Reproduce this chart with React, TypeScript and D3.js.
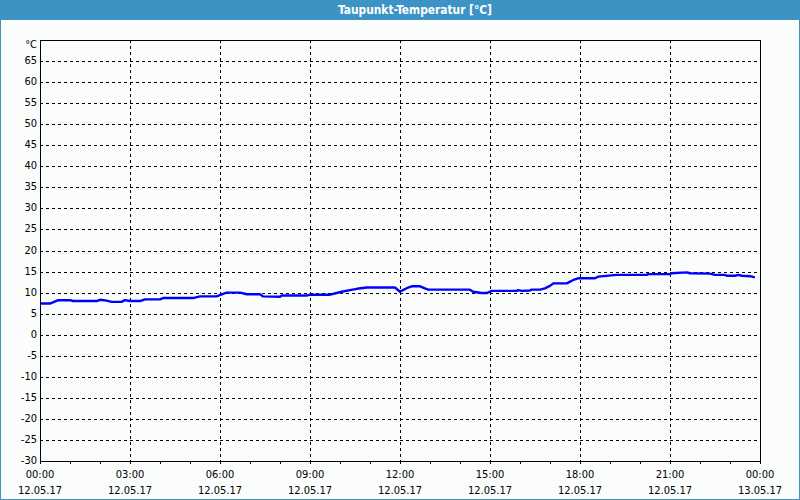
import * as d3 from "d3";

// hours since 12.05.17 00:00
const hours = [
  0, 0.33, 0.61, 1.0, 1.1, 1.89, 2.0, 2.22, 2.39, 2.72, 2.83, 3.0, 3.33, 3.5, 4.0, 4.1, 5.1, 5.33, 5.89,
  6.06, 6.22, 6.67, 6.89, 7.33, 7.44, 8.0, 8.05, 8.89, 9.0, 9.67, 9.89, 10.06, 10.33, 10.56, 10.89,
  11.83, 12.0, 12.1, 12.27, 12.39, 12.67, 12.83, 12.94, 14.33, 14.44, 14.72, 14.89, 15.06, 15.89,
  15.94, 16.06, 16.33, 16.39, 16.67, 16.83, 17.0, 17.11, 17.56, 17.67, 17.78, 17.94, 18.5, 18.61,
  19.22, 20.22, 20.28, 21.0, 21.06, 21.56, 21.67, 22.33, 22.5, 22.83, 22.89, 23.17, 23.28, 23.39,
  23.67, 23.83,
];
const dewPoint = [
  7.4, 7.4, 8.2, 8.2, 8.0, 8.0, 8.3, 8.1, 7.8, 7.8, 8.2, 8.0, 8.0, 8.4, 8.4, 8.7, 8.7, 9.1, 9.1,
  9.6, 10.0, 10.0, 9.6, 9.6, 9.1, 9.0, 9.3, 9.3, 9.5, 9.5, 9.9, 10.2, 10.6, 10.9, 11.2,
  11.2, 10.2, 10.6, 11.2, 11.5, 11.5, 11.0, 10.7, 10.7, 10.2, 9.9, 9.9, 10.4, 10.4,
  10.6, 10.4, 10.5, 10.7, 10.7, 11.0, 11.6, 12.2, 12.2, 12.6, 13.0, 13.4, 13.4, 13.8,
  14.2, 14.2, 14.4, 14.4, 14.6, 14.8, 14.6, 14.5, 14.2, 14.2, 14.0, 14.0, 14.2, 14.0,
  13.9, 13.6,
];

const yTicks = [65, 60, 55, 50, 45, 40, 35, 30, 25, 20, 15, 10, 5, 0, -5, -10, -15, -20, -25, -30];
const xMajor = [0, 3, 6, 9, 12, 15, 18, 21, 24];
const xTimeLabels = ["00:00", "03:00", "06:00", "09:00", "12:00", "15:00", "18:00", "21:00", "00:00"];
const xDateLabels = ["12.05.17", "12.05.17", "12.05.17", "12.05.17", "12.05.17", "12.05.17", "12.05.17", "12.05.17", "13.05.17"];

const W = 800;
const H = 500;
const PLOT = { left: 40, right: 760, top: 40, bottom: 461 };
const FONT = "'DejaVu Sans Condensed', 'DejaVu Sans', sans-serif";
const BLUE_BAR = "#3d93c4";

export default function App() {
  const x = d3.scaleLinear().domain([0, 24]).range([PLOT.left, PLOT.right]);
  const y = d3.scaleLinear().domain([-30, 70]).range([PLOT.bottom, PLOT.top]);
  const minorTicks = d3.range(0, 25);

  const line = d3
    .line<number>()
    .x((_, i) => x(hours[i]))
    .y((d) => y(d));

  return (
    <svg
      width={W}
      height={H}
      style={{ position: "absolute", left: 0, top: 0, display: "block" }}
      fontFamily={FONT}
    >
      <rect x={0} y={0} width={W} height={H} fill="#fafdfc" />
      <rect x={0} y={0} width={W} height={20} fill={BLUE_BAR} />
      <rect x={0.5} y={0.5} width={W - 1} height={H - 1} fill="none" stroke={BLUE_BAR} />
      <text
        x={415}
        y={10.5}
        textAnchor="middle"
        dominantBaseline="middle"
        fill="#fff"
        fontSize={13}
        fontWeight="bold"
        textLength={154}
        lengthAdjust="spacingAndGlyphs"
      >
        Taupunkt-Temperatur [°C]
      </text>

      {/* horizontal grid */}
      {yTicks.slice(0, -1).map((t) => (
        <line
          key={"h" + t}
          x1={PLOT.left}
          x2={PLOT.right}
          y1={Math.round(y(t)) + 0.5}
          y2={Math.round(y(t)) + 0.5}
          stroke="#000"
          strokeDasharray="3,3"
        />
      ))}
      {/* vertical grid */}
      {xMajor.slice(1, -1).map((h) => (
        <line
          key={"v" + h}
          x1={Math.round(x(h)) + 0.5}
          x2={Math.round(x(h)) + 0.5}
          y1={PLOT.top}
          y2={PLOT.bottom}
          stroke="#000"
          strokeDasharray="3,3"
        />
      ))}

      {/* minor ticks */}
      {minorTicks.map((h) => (
        <line
          key={"t" + h}
          x1={Math.round(x(h)) + 0.5}
          x2={Math.round(x(h)) + 0.5}
          y1={PLOT.bottom}
          y2={PLOT.bottom + 3}
          stroke="#000"
        />
      ))}

      <path
        d={line(dewPoint) as string}
        fill="none"
        stroke="#0000ff"
        strokeWidth={2.4}
        strokeLinejoin="round"
      />

      {/* frame */}
      <rect
        x={PLOT.left + 0.5}
        y={PLOT.top + 0.5}
        width={PLOT.right - PLOT.left}
        height={PLOT.bottom - PLOT.top}
        fill="none"
        stroke="#000"
      />

      {/* y labels */}
      <text x={37} y={y(70) + 5} textAnchor="end" dominantBaseline="middle" fontSize={11} fill="#000">
        °C
      </text>
      {yTicks.map((t) => (
        <text
          key={"yl" + t}
          x={37}
          y={y(t)}
          textAnchor="end"
          dominantBaseline="middle"
          fontSize={11}
          fill="#000"
        >
          {t}
        </text>
      ))}

      {/* x labels */}
      {xMajor.map((h, i) => (
        <g key={"xl" + i}>
          <text x={x(h)} y={475} textAnchor="middle" dominantBaseline="middle" fontSize={11} fill="#000">
            {xTimeLabels[i]}
          </text>
          <text x={x(h)} y={491} textAnchor="middle" dominantBaseline="middle" fontSize={11} fill="#000">
            {xDateLabels[i]}
          </text>
        </g>
      ))}
    </svg>
  );
}
